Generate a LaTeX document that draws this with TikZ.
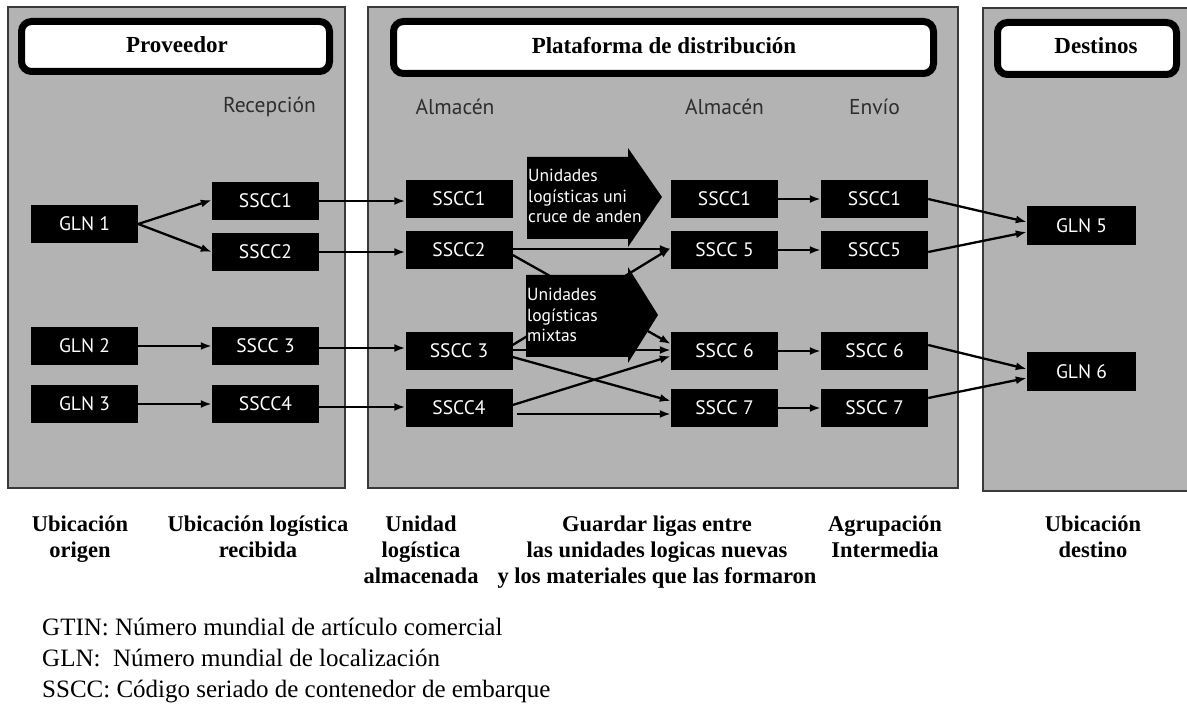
\documentclass[tikz,border=0pt]{standalone}
\usepackage{fontspec}
\setmainfont{Liberation Serif}
\newfontfamily\nodefont{PT Sans}
\usetikzlibrary{arrows.meta}
\definecolor{panelgray}{HTML}{B3B3B3}
\definecolor{paneledge}{HTML}{3A3A3A}
\definecolor{labelgray}{HTML}{2E2E2E}
\tikzset{
  panel/.style={fill=panelgray, draw=paneledge, line width=1.5pt},
  titlebox/.style={draw=black, fill=white, line width=7pt, rounded corners=10pt},
  titletext/.style={font=\bfseries\fontsize{23}{26}\selectfont, inner sep=0},
  stagelabel/.style={font=\nodefont\fontsize{21.5}{24}\selectfont, text=labelgray, inner sep=0},
  blk/.style={fill=black, text=white, minimum width=107pt, minimum height=38pt, inner sep=0,
    font=\nodefont\fontsize{19.5}{21}\selectfont},
  conn/.style={line width=2.3pt, -{Latex[length=11pt,width=8pt]}},
  bigarrow/.style={fill=black},
  arrtext/.style={text=white, align=left, inner sep=0, font=\nodefont\fontsize{17.5}{20.5}\selectfont},
  botlabel/.style={align=center, inner sep=0, font=\bfseries\fontsize{22.5}{26}\selectfont},
  legend/.style={inner sep=0, font=\fontsize{25}{31}\selectfont}
}
\begin{document}
\begin{tikzpicture}[x=1pt,y=-1pt]
\useasboundingbox (0,0) rectangle (1187,711);
% panels
\draw[panel] (8,7) rectangle (345,488);
\draw[panel] (368,7) rectangle (958,488);
\fill[panelgray] (983,8) rectangle (1187,491);
\draw[paneledge, line width=1.5pt] (1187,8) -- (983,8) -- (983,491) -- (1187,491);
% title boxes
\draw[titlebox] (21.5,21.5) rectangle (329.5,71.5);
\node[titletext] (tprov) at (177,45) {Proveedor};
\draw[titlebox] (393.5,21.5) rectangle (933.5,73.5);
\node[titletext] (tplat) at (664,46) {Plataforma de distribución};
\draw[titlebox] (997.5,22.5) rectangle (1176.5,74.5);
\node[titletext] (tdest) at (1096,46) {Destinos};
% stage labels
\node[stagelabel] (lrec) at (269.5,107) {Recepción};
\node[stagelabel] (lalm1) at (455,107) {Almacén};
\node[stagelabel] (lalm2) at (724.5,107) {Almacén};
\node[stagelabel] (lenv) at (874.5,107) {Envío};
% column 1
\node[blk] (g1) at (84.5,224) {GLN 1};
\node[blk] (g2) at (84.5,346) {GLN 2};
\node[blk] (g3) at (84.5,404) {GLN 3};
% column 2
\node[blk] (s1b) at (265.5,201) {SSCC1};
\node[blk] (s2b) at (265.5,252) {SSCC2};
\node[blk] (s3b) at (265.5,346) {SSCC 3};
\node[blk] (s4b) at (265.5,404) {SSCC4};
% column 3
\node[blk] (s1c) at (459,199) {SSCC1};
\node[blk] (s2c) at (459,250) {SSCC2};
\node[blk] (s3c) at (459,351) {SSCC 3};
\node[blk] (s4c) at (459,408) {SSCC4};
% column 4
\node[blk] (s1d) at (724.5,199) {SSCC1};
\node[blk] (s5d) at (724.5,250) {SSCC 5};
\node[blk] (s6d) at (724.5,351) {SSCC 6};
\node[blk] (s7d) at (724.5,408) {SSCC 7};
% column 5
\node[blk] (s1e) at (874.5,199) {SSCC1};
\node[blk] (s5e) at (874.5,250) {SSCC5};
\node[blk] (s6e) at (874.5,351) {SSCC 6};
\node[blk] (s7e) at (874.5,408) {SSCC 7};
% destinations
\node[blk, minimum width=109pt, minimum height=39pt] (g5) at (1081.5,226) {GLN 5};
\node[blk, minimum width=109pt, minimum height=39pt] (g6) at (1081.5,372) {GLN 6};
% connectors col1 -> col2
\draw[conn] (g1.east) -- ([yshift=1pt]s1b.west);
\draw[conn] (g1.east) -- (s2b.west);
\draw[conn] (g2.east) -- (g2.east -| s3b.west);
\draw[conn] (g3.east) -- (g3.east -| s4b.west);
% col2 -> col3
\draw[conn] (s1b.east) -- (s1b.east -| s1c.west);
\draw[conn] (s2b.east) -- (s2b.east -| s2c.west);
\draw[conn] ([yshift=-2pt]s3b.east) -- ([yshift=-2pt]s3b.east -| s3c.west);
\draw[conn] ([yshift=-3pt]s4b.east) -- ([yshift=-3pt]s4b.east -| s4c.west);
% col3 -> col4
\draw[conn] ([yshift=1pt]s2c.east) -- ([yshift=1pt]s2c.east -| s5d.west);
\draw[conn] ([yshift=-5pt]s2c.east) -- ([yshift=7pt]s6d.west);
\draw[conn] ([yshift=6pt]s3c.east) -- ([yshift=2pt]s5d.west);
\draw[conn] ([yshift=1pt]s3c.east) -- ([yshift=1pt]s3c.east -| s6d.west);
\draw[conn] ([yshift=-6pt]s3c.east) -- ([yshift=7pt]s7d.west);
\draw[conn] ([yshift=3pt]s4c.east) -- ([yshift=-5pt]s6d.west);
\draw[conn] ([xshift=4pt,yshift=-6pt]s4c.east) -- ([yshift=-6pt]s4c.east -| s7d.west);
% col4 -> col5
\draw[conn] (s1d.east) -- (s1e.west);
\draw[conn] (s5d.east) -- (s5e.west);
\draw[conn] (s6d.east) -- (s6e.west);
\draw[conn] (s7d.east) -- (s7e.west);
% col5 -> destinations
\draw[conn] (s1e.east) -- ([yshift=4pt]g5.west);
\draw[conn] ([yshift=-2pt]s5e.east) -- ([yshift=-6pt]g5.west);
\draw[conn] ([yshift=6pt]s6e.east) -- ([yshift=3pt]g6.west);
\draw[conn] ([yshift=10pt]s7e.east) -- ([yshift=-6pt]g6.west);
% big arrows
\fill[bigarrow] (527,157) -- (628,157) -- (628,148) -- (662,197) -- (628,247) -- (628,239) -- (527,239) -- cycle;
\node[arrtext, anchor=north west] (ucruce) at (528,169) {Unidades\\logísticas uni\\cruce de anden};
\fill[bigarrow] (526,275) -- (628,275) -- (628,267) -- (658,315) -- (628,363) -- (628,357) -- (526,357) -- cycle;
\node[arrtext, anchor=north west] (umix) at (527,288) {Unidades\\logísticas\\mixtas};
% bottom labels
\node[botlabel, anchor=north] (b1) at (80,516) {Ubicación\\origen};
\node[botlabel, anchor=north] (b2) at (258,516) {Ubicación logística\\recibida};
\node[botlabel, anchor=north] (b3) at (421,516) {Unidad\\logística\\almacenada};
\node[botlabel, anchor=north] (b4) at (657,516) {Guardar ligas entre\\las unidades logicas nuevas\\y los materiales que las formaron};
\node[botlabel, anchor=north] (b5) at (885,516) {Agrupación\\Intermedia};
\node[botlabel, anchor=north] (b6) at (1093,516) {Ubicación\\destino};
% legend
\node[legend, anchor=base west] (leg1) at (42,635) {GTIN: Número mundial de artículo comercial};
\node[legend, anchor=base west] (leg2) at (42,666) {GLN:\ \ Número mundial de localización};
\node[legend, anchor=base west] (leg3) at (42,697) {SSCC: Código seriado de contenedor de embarque};
\end{tikzpicture}
\end{document}
